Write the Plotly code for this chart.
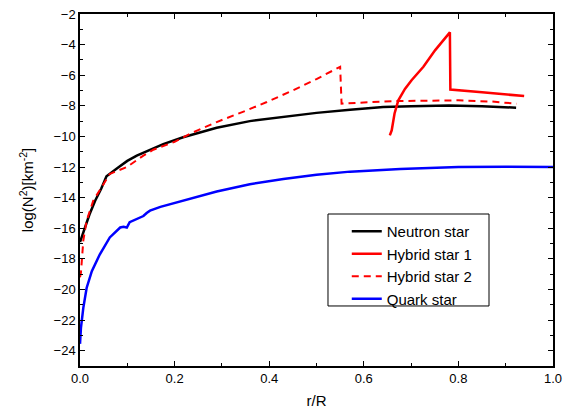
import plotly.graph_objects as go

# ---- data ----
neutron_r = [0.0, 0.005, 0.0106, 0.02, 0.032, 0.045, 0.056, 0.08, 0.1, 0.12, 0.148, 0.176,
             0.218, 0.254, 0.289, 0.359, 0.43, 0.5, 0.571, 0.641, 0.7, 0.78, 0.85, 0.922]
neutron_y = [-16.9, -16.5, -15.95, -15.1, -14.2, -13.4, -12.6, -12.05, -11.6, -11.25, -10.87,
             -10.5, -10.05, -9.72, -9.43, -9.0, -8.71, -8.46, -8.25, -8.08, -8.02, -7.98,
             -8.02, -8.12]

hybrid1_r = [0.655, 0.659, 0.665, 0.673, 0.687, 0.701, 0.726, 0.751, 0.782, 0.783, 0.85, 0.939]
hybrid1_y = [-9.93, -9.6, -8.5, -7.64, -6.9, -6.33, -5.45, -4.36, -3.2, -6.94, -7.12, -7.36]

hybrid2_r = [0.0, 0.002, 0.007, 0.014, 0.028, 0.042, 0.063, 0.099, 0.134, 0.155, 0.2, 0.233,
             0.289, 0.352, 0.395, 0.451, 0.5, 0.55, 0.553, 0.6, 0.67, 0.8, 0.87, 0.923]
hybrid2_y = [-19.2, -18.9, -16.8, -15.5, -14.2, -13.5, -12.45, -12.0, -11.25, -10.87, -10.35,
             -9.82, -9.06, -8.3, -7.75, -6.98, -6.25, -5.45, -7.86, -7.78, -7.69, -7.64,
             -7.72, -7.86]

quark_r = [0.0, 0.002, 0.007, 0.014, 0.025, 0.042, 0.063, 0.085, 0.092, 0.099, 0.105, 0.113,
           0.125, 0.134, 0.141, 0.148, 0.17, 0.2, 0.218, 0.25, 0.289, 0.359, 0.43, 0.5,
           0.571, 0.677, 0.8, 0.9, 1.0]
quark_y = [-23.55, -22.5, -21.2, -19.9, -18.8, -17.7, -16.6, -15.95, -15.9, -15.95, -15.6,
           -15.5, -15.35, -15.2, -15.0, -14.85, -14.6, -14.35, -14.2, -13.95, -13.6, -13.12,
           -12.78, -12.51, -12.3, -12.12, -12.0, -11.98, -12.0]

x_ticks = [0.0, 0.2, 0.4, 0.6, 0.8, 1.0]
x_ticklabels = ["0.0", "0.2", "0.4", "0.6", "0.8", "1.0"]
y_ticks = [-2, -4, -6, -8, -10, -12, -14, -16, -18, -20, -22, -24]

FONT = "Liberation Sans, Arial, sans-serif"

fig = go.Figure()
fig.add_trace(go.Scatter(x=neutron_r, y=neutron_y, mode="lines", name="Neutron star",
                         line=dict(color="black", width=2.5)))
fig.add_trace(go.Scatter(x=hybrid1_r, y=hybrid1_y, mode="lines", name="Hybrid star 1",
                         line=dict(color="#ff0000", width=2.5)))
fig.add_trace(go.Scatter(x=hybrid2_r, y=hybrid2_y, mode="lines", name="Hybrid star 2",
                         line=dict(color="#ff0000", width=2, dash="7px,5px")))
fig.add_trace(go.Scatter(x=quark_r, y=quark_y, mode="lines", name="Quark star",
                         line=dict(color="#0000ff", width=2.5)))

axis_common = dict(showline=True, linecolor="black", linewidth=1.5, mirror="ticks",
                   ticks="inside", ticklen=5, tickwidth=1.2, tickcolor="black",
                   showgrid=False, zeroline=False, automargin=False,
                   tickfont=dict(family=FONT, size=13, color="black"))

fig.update_xaxes(range=[0, 1], tickvals=x_ticks, ticktext=x_ticklabels,
                 minor=dict(ticks="inside", ticklen=3, tickwidth=1.2, tickcolor="black", dtick=0.1),
                 title=dict(text="r/R", font=dict(family=FONT, size=15, color="black"), standoff=10),
                 **axis_common)
fig.update_yaxes(range=[-25, -2], tickvals=y_ticks,
                 minor=dict(ticks="inside", ticklen=3, tickwidth=1.2, tickcolor="black", dtick=1),
                 title=dict(text="log(N<sup>2</sup>)[km<sup>-2</sup>]",
                            font=dict(family=FONT, size=15, color="black"), standoff=16),
                 **axis_common)

# legend frame
fig.add_shape(type="rect", xref="paper", yref="paper",
              x0=0.5243, x1=0.8647, y0=0.1705, y1=0.4318,
              line=dict(color="black", width=1), fillcolor="white", layer="below")

fig.update_layout(
    width=567, height=410,
    margin=dict(l=80, r=14, t=14, b=44),
    paper_bgcolor="white", plot_bgcolor="white",
    font=dict(family=FONT, color="black"),
    legend=dict(x=0.564, y=0.429, xanchor="left", yanchor="top",
                borderwidth=0, bgcolor="rgba(0,0,0,0)",
                font=dict(family=FONT, size=15, color="black"),
                tracegroupgap=0),
)

fig.write_html("out.html")
